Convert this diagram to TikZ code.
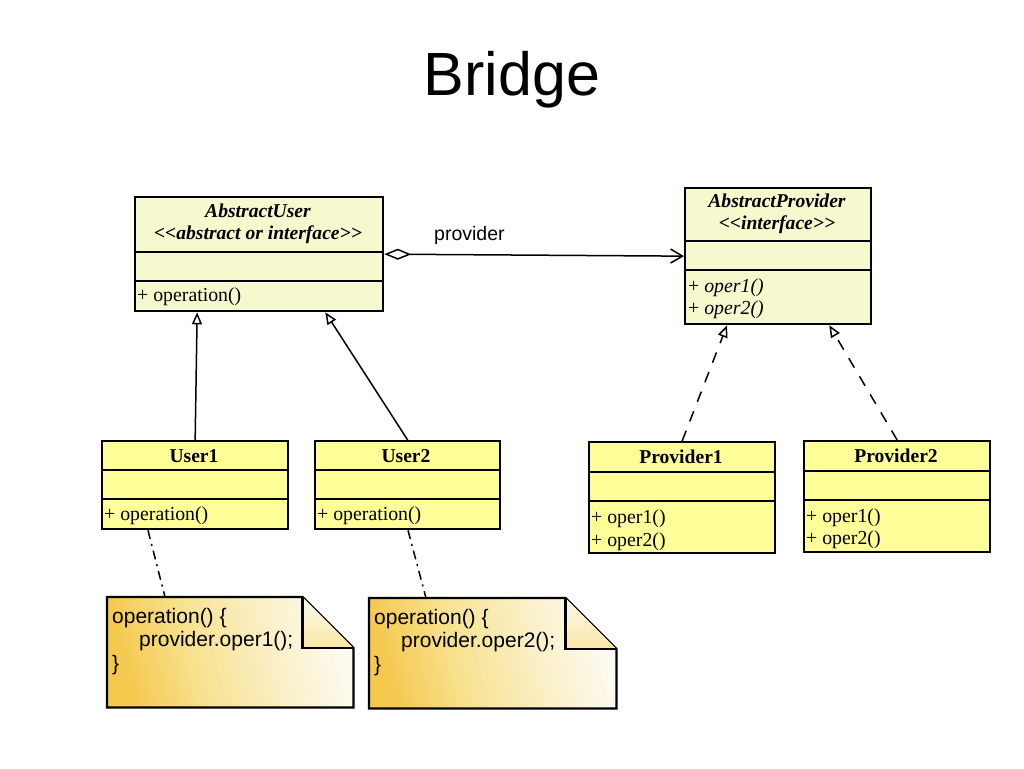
\documentclass[tikz,border=0pt]{standalone}
\usepackage{fontspec}
\setmainfont{Liberation Serif}
\newfontfamily\arialf{Liberation Sans}
\usetikzlibrary{arrows.meta}
\definecolor{concrete}{RGB}{255,255,153}
\definecolor{abstr}{RGB}{246,249,206}
\definecolor{noteA}{RGB}{245,200,78}
\definecolor{noteM}{RGB}{248,226,145}
\definecolor{noteL}{RGB}{250,240,200}
\definecolor{noteB}{RGB}{253,250,240}
\pgfdeclarehorizontalshading{noteshade}{100bp}{color(0bp)=(noteA); color(25bp)=(noteA); color(42bp)=(noteM); color(60bp)=(noteL); color(75bp)=(noteB); color(100bp)=(noteB)}
\begin{document}
\begin{tikzpicture}[x=1pt,y=-1pt,
  cls/.style={draw, line width=2.3pt, anchor=north west, inner sep=0pt},
  divl/.style={line width=2pt},
  ttl/.style={font=\fontsize{19.6}{21}\selectfont\bfseries, inner sep=0pt},
  mem/.style={font=\fontsize{19.8}{21}\selectfont, anchor=base west, inner sep=0pt},
  conn/.style={line width=1.5pt},
  gen/.style={conn, -{Triangle[open, length=12pt, width=10pt, line width=1.5pt]}},
  real/.style={gen, dash pattern=on 11pt off 10pt},
  anch/.style={line width=1.5pt, dash pattern=on 9pt off 5pt on 2pt off 5pt},
  notebox/.style={anchor=north west, inner sep=0pt},
  notetxt/.style={font=\arialf\fontsize{21}{23.5}\selectfont, anchor=north west, align=left, inner sep=0pt},
  noteline/.style={line width=2.3pt, line join=miter}
]
\useasboundingbox (0,0) rectangle (1024,768);

% title
\node[font=\arialf\fontsize{61}{61}\selectfont, anchor=base] (title) at (512,95) {Bridge};

% AbstractUser
\node[cls, fill=abstr, minimum width=248pt, minimum height=114pt] (au) at (134,196) {};
\draw[divl] (134,252) -- (382,252);
\draw[divl] (134,281) -- (382,281);
\node[ttl] (aut1) at (258,211) {\itshape AbstractUser};
\node[ttl] (aut2) at (258,235) {\itshape <{}<abstract or interface>{}>};
\node[mem] (aum) at (137,301) {+ operation()};

% AbstractProvider
\node[cls, fill=abstr, minimum width=186pt, minimum height=136pt] (ap) at (684,187) {};
\draw[divl] (684,241) -- (870,241);
\draw[divl] (684,270) -- (870,270);
\node[ttl] (apt1) at (777,201) {\itshape AbstractProvider};
\node[ttl] (apt2) at (777,225) {\itshape <{}<interface>{}>};
\node[mem] (apm1) at (688,292) {+ \textit{oper1()}};
\node[mem] (apm2) at (688,314) {+ \textit{oper2()}};

% User1
\node[cls, fill=concrete, minimum width=186pt, minimum height=88pt] (u1) at (101,440) {};
\draw[divl] (101,470) -- (287,470);
\draw[divl] (101,499) -- (287,499);
\node[ttl] (u1t) at (194,456) {User1};
\node[mem] (u1m) at (104,520) {+ operation()};

% User2
\node[cls, fill=concrete, minimum width=185pt, minimum height=88pt] (u2) at (314,440) {};
\draw[divl] (314,470) -- (499,470);
\draw[divl] (314,499) -- (499,499);
\node[ttl] (u2t) at (406,456) {User2};
\node[mem] (u2m) at (317,520) {+ operation()};

% Provider1
\node[cls, fill=concrete, minimum width=186pt, minimum height=111pt] (p1) at (588,441) {};
\draw[divl] (588,472) -- (774,472);
\draw[divl] (588,501) -- (774,501);
\node[ttl] (p1t) at (681,457) {Provider1};
\node[mem] (p1m1) at (591,523) {+ oper1()};
\node[mem] (p1m2) at (591,546) {+ oper2()};

% Provider2
\node[cls, fill=concrete, minimum width=186pt, minimum height=111pt] (p2) at (803,440) {};
\draw[divl] (803,471) -- (989,471);
\draw[divl] (803,500) -- (989,500);
\node[ttl] (p2t) at (896,456) {Provider2};
\node[mem] (p2m1) at (806,522) {+ oper1()};
\node[mem] (p2m2) at (806,544) {+ oper2()};

% Notes
\node[notebox, minimum width=246pt, minimum height=110pt] (n1) at (107,597) {};
\shade[shading=noteshade, shading angle=15] (n1.north west) -- ([xshift=-51pt]n1.north east) -- ([yshift=-51pt]n1.north east) -- (n1.south east) -- (n1.south west) -- cycle;
\draw[noteline] (n1.north west) -- ([xshift=-51pt]n1.north east) -- ([yshift=-51pt]n1.north east) -- (n1.south east) -- (n1.south west) -- cycle;
\shade[top color=noteB, bottom color=noteM!80!noteB] ([xshift=-51pt]n1.north east) -- ([xshift=-51pt,yshift=-51pt]n1.north east) -- ([yshift=-51pt]n1.north east) -- cycle;
\draw[noteline] ([xshift=-51pt]n1.north east) -- ([xshift=-51pt,yshift=-51pt]n1.north east) -- ([yshift=-51pt]n1.north east);
\node[notetxt] (n1t) at (112,608) {operation() \{\\\hspace{27pt}provider.oper1();\\\}};

\node[notebox, minimum width=247pt, minimum height=110pt] (n2) at (369,598) {};
\shade[shading=noteshade, shading angle=15] (n2.north west) -- ([xshift=-51pt]n2.north east) -- ([yshift=-51pt]n2.north east) -- (n2.south east) -- (n2.south west) -- cycle;
\draw[noteline] (n2.north west) -- ([xshift=-51pt]n2.north east) -- ([yshift=-51pt]n2.north east) -- (n2.south east) -- (n2.south west) -- cycle;
\shade[top color=noteB, bottom color=noteM!80!noteB] ([xshift=-51pt]n2.north east) -- ([xshift=-51pt,yshift=-51pt]n2.north east) -- ([yshift=-51pt]n2.north east) -- cycle;
\draw[noteline] ([xshift=-51pt]n2.north east) -- ([xshift=-51pt,yshift=-51pt]n2.north east) -- ([yshift=-51pt]n2.north east);
\node[notetxt] (n2t) at (374,609) {operation() \{\\\hspace{27pt}provider.oper2();\\\}};

% Connectors
\draw[conn, {Diamond[open, length=27pt, width=11pt, line width=1.5pt]}-{Straight Barb[length=12pt, width=14pt, line width=1.5pt]}] (au.east) -- (ap.west);
\node[font=\arialf\fontsize{19.5}{21}\selectfont, anchor=base west, inner sep=0pt] (plab) at (434,240) {provider};

\draw[gen] (u1.north) -- ([xshift=-62pt]au.south);
\draw[gen] (u2.north) -- ([xshift=-59pt]au.south east);
\draw[real] (p1.north) -- ([xshift=43pt]ap.south west);
\draw[real] (p2.north) -- ([xshift=-43pt]ap.south east);

\draw[anch] ([xshift=47pt]u1.south west) -- ([xshift=58pt]n1.north west);
\draw[anch] ([xshift=94pt]u2.south west) -- ([xshift=57pt]n2.north west);
\end{tikzpicture}
\end{document}
